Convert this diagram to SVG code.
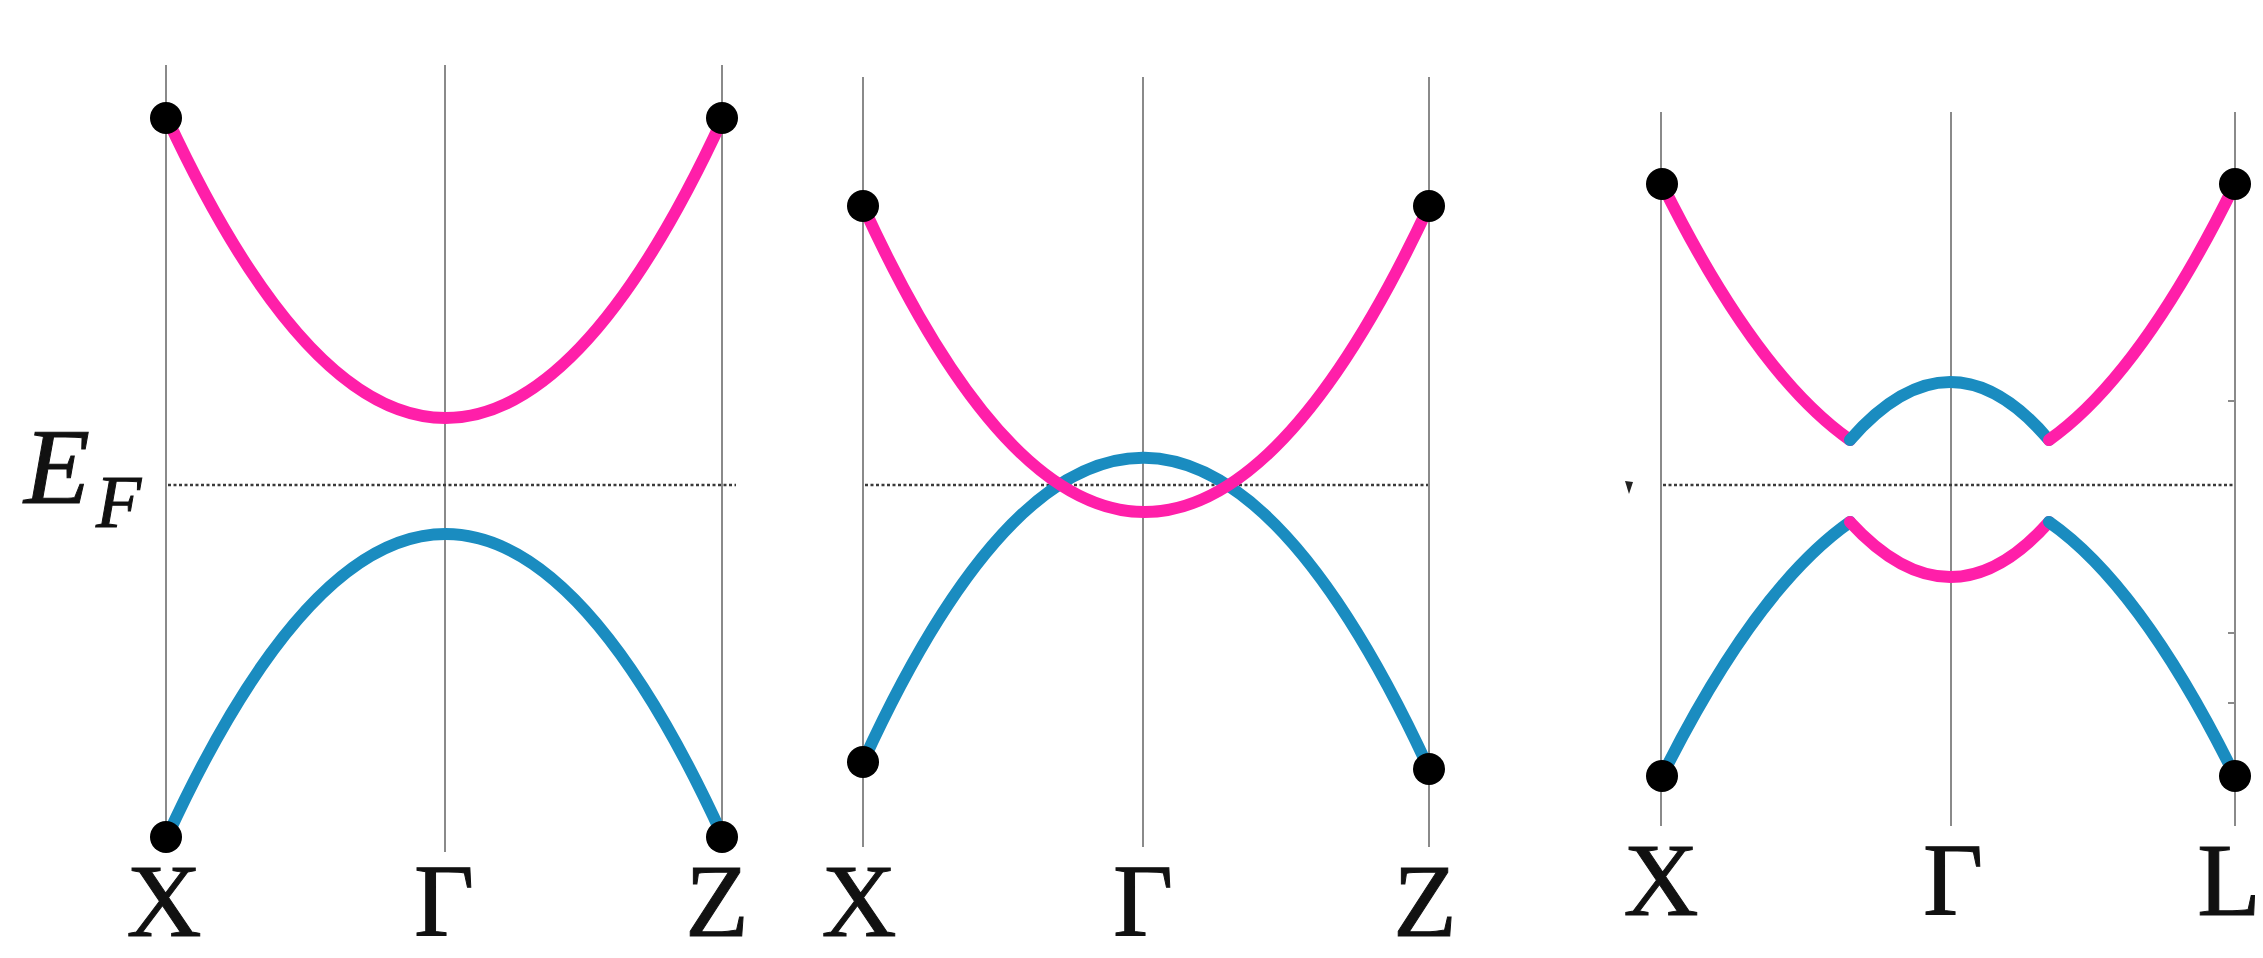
<svg xmlns="http://www.w3.org/2000/svg" width="2263" height="958" viewBox="0 0 2263 958">
<style>
.axis{stroke:#8a8a8a;stroke-width:2;fill:none}
.ef{stroke:#3a3a3a;stroke-width:2.4;stroke-dasharray:3 2.5;fill:none}
.pink{stroke:#ff1fa9;stroke-width:12;fill:none;stroke-linecap:round;stroke-linejoin:round}
.blue{stroke:#1a8cc0;stroke-width:12;fill:none;stroke-linecap:round;stroke-linejoin:round}
.dot{fill:#000}
.lbl{font-size:104px;fill:#111;stroke:#111;stroke-width:1;text-anchor:middle}
.it{font-style:italic;fill:#111;stroke:#111;stroke-width:1}
</style>
<rect width="2263" height="958" fill="#ffffff"/>

<g id="panel1" font-family="'Liberation Serif', 'Times New Roman', Times, serif">
  <line class="axis" x1="166" y1="65" x2="166" y2="850"/>
  <line class="axis" x1="445" y1="65" x2="445" y2="852"/>
  <line class="axis" x1="722" y1="65" x2="722" y2="850"/>
  <line class="ef" x1="168" y1="485" x2="736" y2="485"/>
  <path class="pink" d="M167,118 Q446,718 723,118"/>
  <path class="blue" d="M167,837 Q446,231 723,837"/>
  <circle class="dot" cx="166" cy="118" r="16"/>
  <circle class="dot" cx="722" cy="118" r="16"/>
  <circle class="dot" cx="166" cy="837" r="16"/>
  <circle class="dot" cx="722" cy="837" r="16"/>
  <text class="lbl" x="164" y="936">X</text>
  <text class="lbl" x="444" y="936">Γ</text>
  <text class="lbl" x="717" y="936">Z</text>
  <text class="it" x="24" y="503" font-size="108">E</text>
  <text class="it" x="96" y="527" font-size="74">F</text>
</g>

<g id="panel2" font-family="'Liberation Serif', 'Times New Roman', Times, serif">
  <line class="axis" x1="863" y1="77" x2="863" y2="847"/>
  <line class="axis" x1="1143" y1="77" x2="1143" y2="847"/>
  <line class="axis" x1="1429" y1="77" x2="1429" y2="847"/>
  <line class="ef" x1="865" y1="485" x2="1428" y2="485"/>
  <path class="blue" d="M863,762 Q1143,150 1429,769"/>
  <path class="pink" d="M863,206 Q1143,818 1429,206"/>
  <circle class="dot" cx="863" cy="206" r="16"/>
  <circle class="dot" cx="1429" cy="206" r="16"/>
  <circle class="dot" cx="863" cy="762" r="16"/>
  <circle class="dot" cx="1429" cy="769" r="16"/>
  <text class="lbl" x="859" y="936">X</text>
  <text class="lbl" x="1143" y="936">Γ</text>
  <text class="lbl" x="1425" y="936">Z</text>
</g>

<g id="panel3" font-family="'Liberation Serif', 'Times New Roman', Times, serif">
  <line class="axis" x1="1661" y1="112" x2="1661" y2="826"/>
  <line class="axis" x1="1951" y1="112" x2="1951" y2="826"/>
  <line class="axis" x1="2235" y1="112" x2="2235" y2="826"/>
  <line class="axis" x1="2228" y1="401" x2="2235" y2="401"/>
  <line class="axis" x1="2228" y1="633" x2="2235" y2="633"/>
  <line class="axis" x1="2228" y1="703" x2="2235" y2="703"/>
  <line class="ef" x1="1663" y1="485" x2="2234" y2="485"/>
  <path d="M1625,481 L1633,482 L1629,494 Z" fill="#222"/>
  <path class="pink" d="M1662,184 Q1756,374 1850,440"/>
  <path class="blue" d="M1850,440 Q1951,324 2049,440"/>
  <path class="pink" d="M2049,440 Q2141,375 2235,184"/>
  <path class="blue" d="M1662,776 Q1756,588 1850,522"/>
  <path class="pink" d="M1850,522 Q1951,632 2049,522"/>
  <path class="blue" d="M2049,522 Q2141,586 2235,776"/>
  <circle class="dot" cx="1662" cy="184" r="16"/>
  <circle class="dot" cx="2235" cy="184" r="16"/>
  <circle class="dot" cx="1662" cy="776" r="16"/>
  <circle class="dot" cx="2235" cy="776" r="16"/>
  <text class="lbl" x="1661" y="915">X</text>
  <text class="lbl" x="1953" y="915">Γ</text>
  <text class="lbl" x="2229" y="915">L</text>
</g>
</svg>
